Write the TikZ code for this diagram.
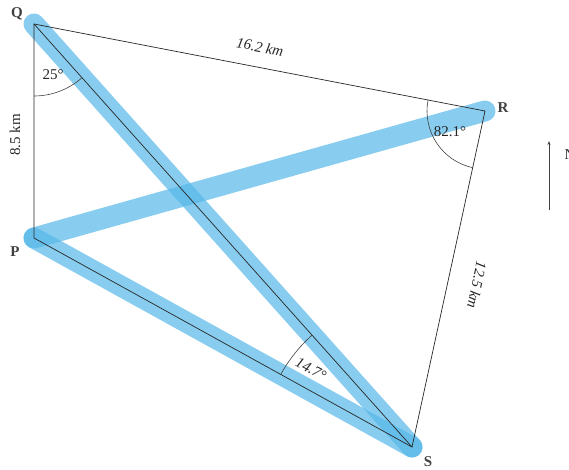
\documentclass[tikz,border=0pt]{standalone}
\usepackage{fontspec}
\setmainfont{Liberation Serif}
\usepackage{tikz}
\usetikzlibrary{arrows.meta,calc}
\definecolor{bandblue}{RGB}{86,184,232}

\begin{document}
\begin{tikzpicture}[
  x=1pt, y=-1pt,
  every node/.style={font=\fontsize{15}{18}\selectfont, text=black!85},
  band/.style={line width=21pt, line cap=round, draw=bandblue, opacity=0.7},
  edge/.style={draw=black!85, line width=0.7pt},
  arcline/.style={draw=black!75, line width=0.6pt},
  vlabel/.style={font=\fontsize{15}{18}\selectfont\bfseries, text=black!75},
  dist/.style={font=\fontsize{15}{18}\selectfont\itshape},
  arr/.style={-{Stealth[length=4pt]}, draw=black!75, line width=0.7pt}
]
\useasboundingbox (0,0) rectangle (569,470);

% vertices
\coordinate (Q) at (34,24);
\coordinate (R) at (485,111);
\coordinate (P) at (34,238);
\coordinate (S) at (412,447);

% highlighted bearings
\draw[band] (Q) -- (S);
\draw[band] (P) -- (R);
\draw[band] (P) -- (S);

% triangle edges
\draw[edge] (Q) -- (R) -- (S) -- (P) -- cycle;
\draw[edge] (Q) -- (S);

% angle marks (y axis points down, so angles turn clockwise)
\draw[arcline] ($(Q)+(48.3:72)$) arc[start angle=48.3, end angle=90, radius=72];
\draw[arcline] ($(R)+(102.2:58)$) arc[start angle=102.2, end angle=190.9, radius=58];
\draw[arcline] ($(S)+(208.9:150)$) arc[start angle=208.9, end angle=228.2, radius=150];

% vertex labels
\node[vlabel] (lQ) at (17,14) {Q};
\node[vlabel] (lR) at (503,108) {R};
\node[vlabel] (lP) at (15,252) {P};
\node[vlabel] (lS) at (428,462) {S};

% measurements
\node[rotate=-10.9, dist] (dQR) at (260,47) {16.2 km};
\node[rotate=90] (dQP) at (15,135) {8.5 km};
\node[rotate=-102, dist] (dRS) at (477,285) {12.5 km};
\node (aQ) at (53,75) {25°};
\node (aR) at (450,132) {82.1°};
\node[rotate=-28, dist] (aS) at (311,369) {14.7°};

% north arrow
\coordinate (n0) at (549,210);
\coordinate (n1) at (549,141);
\draw[arr] (n0) -- (n1);
\node[anchor=west] (lN) at (561,155) {N};
\end{tikzpicture}
\end{document}
